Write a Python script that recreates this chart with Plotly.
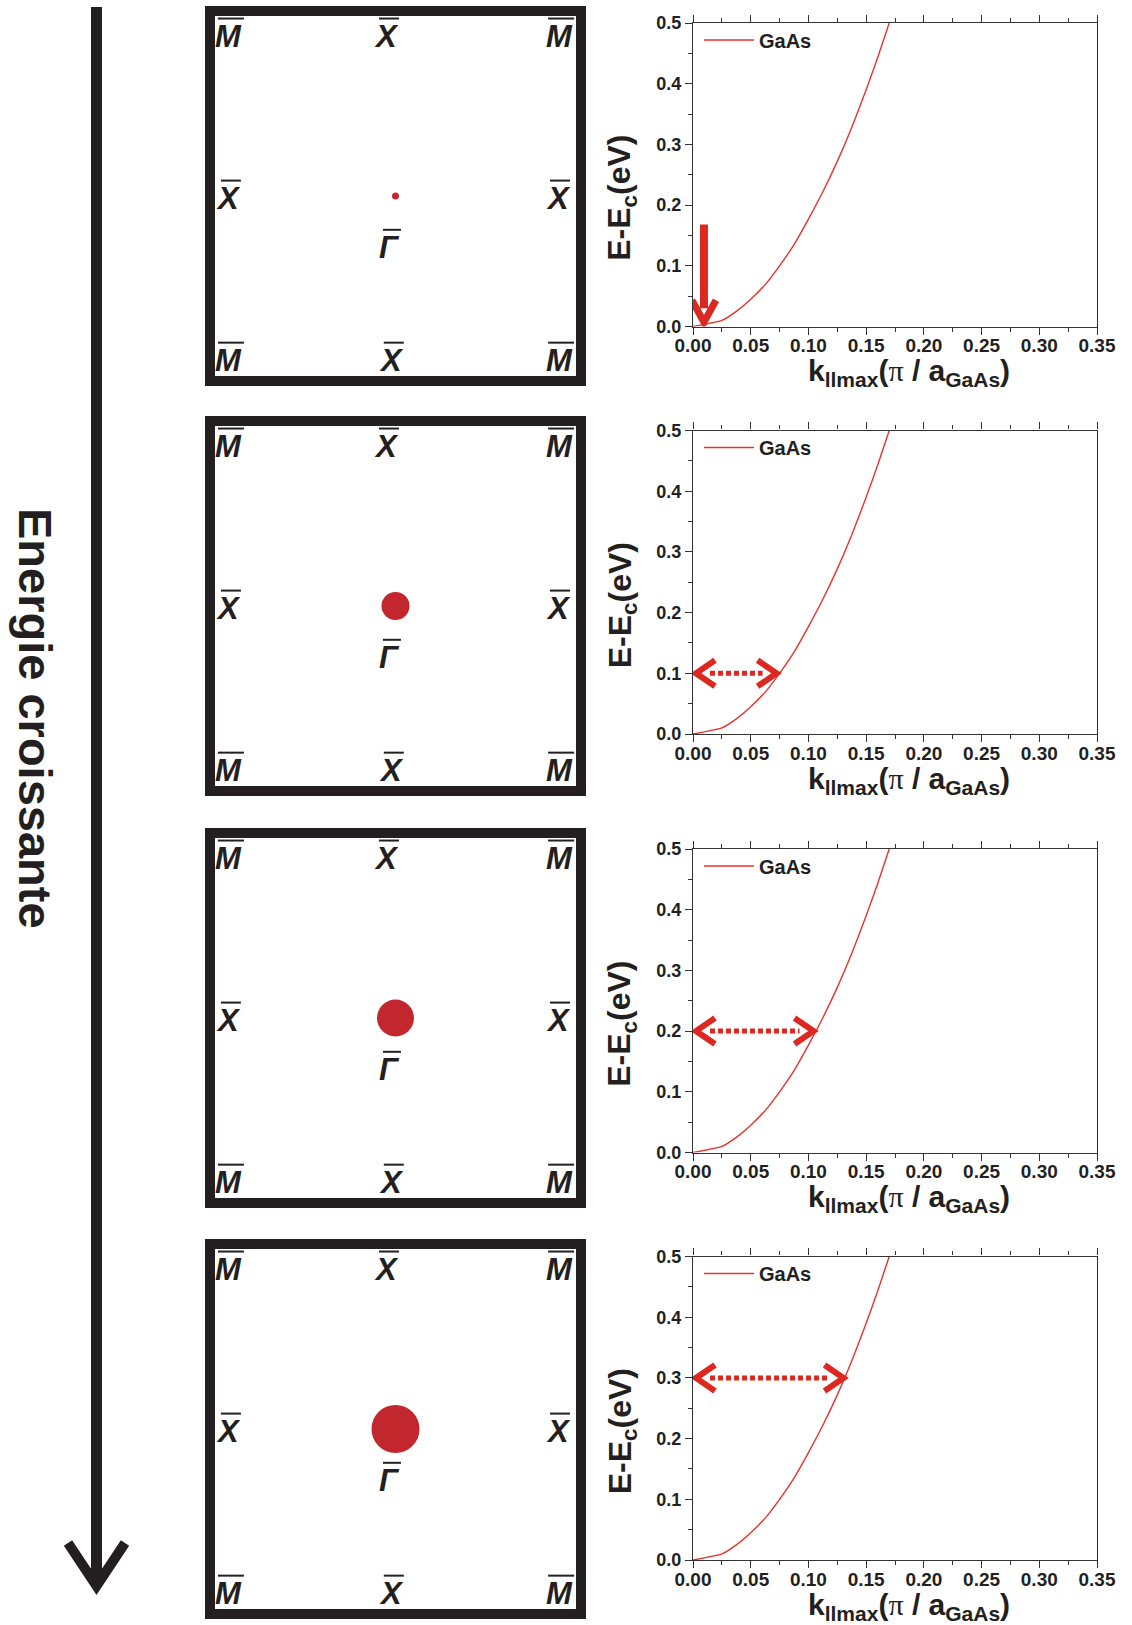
import plotly.graph_objects as go

W, H = 1132, 1625

# ---------------- data ----------------
k_vals = [0.0, 0.025, 0.0375, 0.05, 0.0625, 0.075, 0.0875, 0.1, 0.1125, 0.125, 0.1375, 0.15, 0.16, 0.170]
E_vals = [0.0, 0.010, 0.025, 0.045, 0.069, 0.100, 0.135, 0.177, 0.222, 0.272, 0.328, 0.390, 0.443, 0.5]
series_name = "GaAs"
energy_levels = [0.0, 0.1, 0.2, 0.3]
k_max = [0.0095, 0.075, 0.107, 0.133]
arrow_top_E = 0.168
dot_sizes = [7, 28, 37, 48]
x_tick_vals = [0.0, 0.05, 0.10, 0.15, 0.20, 0.25, 0.30, 0.35]
y_tick_vals = [0.0, 0.1, 0.2, 0.3, 0.4, 0.5]
point_names = ["M", "X", "M", "X", "X", "M", "X", "M", "Γ"]
side_text = "Energie croissante"
x_title = "k<sub>llmax</sub>(<span style=\"font-family:Liberation Serif;font-weight:normal\">π</span> / a<sub>GaAs</sub>)"
y_title = "E-E<sub>c</sub>(eV)"

# ---------------- layout helpers ----------------
def fx(p):
    return p / W

def fy(p):
    return 1 - p / H

FONT = "Liberation Sans, Arial, sans-serif"
DARK = "#231f20"
RED = "#dc2820"
CURVE = "#e8332b"
DOT = "#c1272d"

PLOT_X = (693, 1097)
PLOT_TOPS = [23, 430.5, 849, 1256.5]
PLOT_H = 303.5
BOX_X = (210, 581)
BOX_TOPS = [11, 421, 833, 1244]
BOX_H = 370

label_pos = [(0.051, 0.931), (0.477, 0.931), (0.941, 0.931),
             (0.051, 0.493), (0.938, 0.493),
             (0.051, 0.055), (0.49, 0.055), (0.941, 0.055),
             (0.485, 0.36)]
overline_w = {"M": 26, "X": 20, "Γ": 18}

fig = go.Figure()
layout = dict(width=W, height=H, margin=dict(l=0, r=0, t=0, b=0, autoexpand=False),
              paper_bgcolor="white", plot_bgcolor="rgba(0,0,0,0)",
              font=dict(family=FONT, color=DARK), showlegend=True)
shapes = []
annotations = []

xpix_per_unit = (PLOT_X[1] - PLOT_X[0]) / 0.35

for i in range(4):
    n = i + 1
    xs = "" if n == 1 else str(n)
    xa, ya = "x" + xs, "y" + xs
    leg = "legend" if n == 1 else f"legend{n}"
    fig.add_trace(go.Scatter(x=k_vals, y=E_vals, mode="lines", name=series_name,
                             line=dict(color=CURVE, width=1.4, shape="spline", smoothing=0.5),
                             xaxis=xa, yaxis=ya, legend=leg, showlegend=True))
    top = PLOT_TOPS[i]
    bottom = top + PLOT_H
    layout["xaxis" + xs] = dict(
        domain=[fx(PLOT_X[0]), fx(PLOT_X[1])], range=[0, 0.35], anchor=ya, automargin=False,
        tickvals=x_tick_vals, tickformat=".2f", ticks="outside", ticklen=7, tickwidth=1.3,
        ticklabelstandoff=-5,
        tickcolor="#333", minor=dict(dtick=0.025, ticks="outside", ticklen=4, tickwidth=1.3, tickcolor="#333"),
        showline=True, linecolor="#333", linewidth=1.3, mirror="ticks",
        showgrid=False, zeroline=False,
        tickfont=dict(family=FONT, size=19, weight="bold", color=DARK))
    layout["yaxis" + xs] = dict(
        domain=[fy(bottom), fy(top)], range=[0, 0.5], anchor=xa, automargin=False,
        tickvals=y_tick_vals, tickformat=".1f", ticks="outside", ticklen=7, tickwidth=1.3,
        tickcolor="#333", minor=dict(dtick=0.05, ticks="outside", ticklen=4, tickwidth=1.3, tickcolor="#333"),
        showline=True, linecolor="#333", linewidth=1.3, mirror=True,
        showgrid=False, zeroline=False,
        tickfont=dict(family=FONT, size=18, weight="bold", color=DARK))
    layout[leg] = dict(x=fx(699), y=fy(top + 17), xanchor="left", yanchor="middle",
                       bgcolor="rgba(0,0,0,0)", borderwidth=0, itemwidth=50,
                       font=dict(family=FONT, size=20, weight="bold", color=DARK))

    # axis titles
    annotations.append(dict(xref="paper", yref="paper", x=fx(909), y=fy(bottom + 46), text=x_title,
                            showarrow=False, xanchor="center", yanchor="middle",
                            font=dict(family=FONT, size=30, weight="bold", color=DARK)))
    annotations.append(dict(xref="paper", yref="paper", x=fx(622), y=fy(top + PLOT_H / 2 + 23), text=y_title,
                            showarrow=False, xanchor="center", yanchor="middle", textangle=-90,
                            font=dict(family=FONT, size=32, weight="bold", color=DARK)))

    # arrows on the dispersion plots
    E = energy_levels[i]
    kk = k_max[i]
    if i == 0:
        shapes.append(dict(type="line", xref=xa, yref=ya, x0=kk, x1=kk, y0=arrow_top_E, y1=0.03,
                           line=dict(color=RED, width=8)))
        shapes.append(dict(type="path", xref=xa, yref=ya, xsizemode="pixel", ysizemode="pixel",
                           xanchor=kk, yanchor=0.007, path="M-12,22 L0,0 L12,22",
                           line=dict(color=RED, width=7)))
    else:
        pad = 17 / xpix_per_unit
        shapes.append(dict(type="line", xref=xa, yref=ya, x0=pad, x1=kk - pad, y0=E, y1=E,
                           line=dict(color=RED, width=5, dash="5px,3px")))
        shapes.append(dict(type="path", xref=xa, yref=ya, xsizemode="pixel", ysizemode="pixel",
                           xanchor=0, yanchor=E, path="M22,13 L3,0 L22,-13",
                           line=dict(color=RED, width=6)))
        shapes.append(dict(type="path", xref=xa, yref=ya, xsizemode="pixel", ysizemode="pixel",
                           xanchor=kk, yanchor=E, path="M-22,13 L-3,0 L-22,-13",
                           line=dict(color=RED, width=6)))

    # Brillouin-zone boxes
    bn = i + 5
    bxa, bya = f"x{bn}", f"y{bn}"
    btop = BOX_TOPS[i]
    layout[f"xaxis{bn}"] = dict(domain=[fx(BOX_X[0]), fx(BOX_X[1])], range=[0, 1], anchor=bya,
                                visible=False, automargin=False)
    layout[f"yaxis{bn}"] = dict(domain=[fy(btop + BOX_H), fy(btop)], range=[0, 1], anchor=bxa,
                                visible=False, automargin=False)
    shapes.append(dict(type="rect", xref=f"{bxa} domain", yref=f"{bya} domain", x0=0, x1=1, y0=0, y1=1,
                       line=dict(color=DARK, width=10)))
    fig.add_trace(go.Scatter(x=[0.5], y=[0.5], mode="markers", showlegend=False,
                             marker=dict(size=dot_sizes[i], color=DOT, line=dict(width=0)),
                             xaxis=bxa, yaxis=bya, hoverinfo="skip"))
    for name, (px_, py_) in zip(point_names, label_pos):
        annotations.append(dict(xref=bxa, yref=bya, x=px_, y=py_, showarrow=False,
                                text=name, xanchor="center", yanchor="middle",
                                font=dict(family=FONT, size=31, weight="bold", style="italic", color=DARK)))
        w = overline_w[name]
        shapes.append(dict(type="line", xref=bxa, yref=bya, xsizemode="pixel", ysizemode="pixel",
                           xanchor=px_, yanchor=py_, x0=-w / 2 + 2, x1=w / 2 + 2, y0=18, y1=18,
                           line=dict(color=DARK, width=2)))

# big left arrow
def ppath(pts):
    return " ".join(("M" if j == 0 else "L") + f"{fx(a):.5f},{fy(b):.5f}" for j, (a, b) in enumerate(pts))

shapes.append(dict(type="path", xref="paper", yref="paper", path=ppath([(96.5, 7), (96.5, 1585)]),
                   line=dict(color=DARK, width=11)))
shapes.append(dict(type="path", xref="paper", yref="paper",
                   path=ppath([(68, 1543), (96.5, 1586), (125, 1543)]),
                   line=dict(color=DARK, width=10)))

annotations.append(dict(xref="paper", yref="paper", x=fx(35), y=fy(718), text=side_text,
                        showarrow=False, textangle=90, xanchor="center", yanchor="middle",
                        font=dict(family=FONT, size=47, weight="bold", color=DARK)))

layout["shapes"] = shapes
layout["annotations"] = annotations
fig.update_layout(**layout)
fig.write_html("out.html", config={"displayModeBar": False},
               post_script="document.body.style.margin='0px';document.body.style.overflow='hidden';")
